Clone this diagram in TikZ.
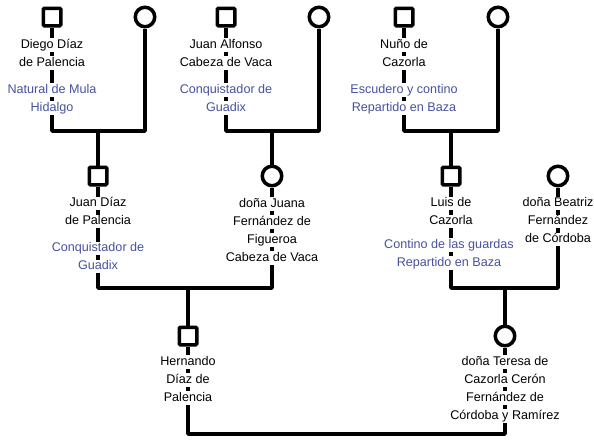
\documentclass[tikz,border=0pt]{standalone}
\usepackage{fontspec}
\setmainfont{Liberation Sans}
\definecolor{noteblue}{RGB}{72,82,160}
\newcommand{\wl}[1]{{\setlength{\fboxsep}{0.8pt}\colorbox{white}{\rule[-3pt]{0pt}{12.3pt}#1}}}
\begin{document}
\begin{tikzpicture}[x=1pt,y=-1pt,
  line/.style={line width=3.5pt, line join=round},
  male/.style={draw, line width=3.5pt, fill=white, minimum size=17.5pt, inner sep=0pt, rounded corners=1pt},
  female/.style={circle, draw, line width=3.5pt, fill=white, minimum size=19.5pt, inner sep=0pt},
  lbl/.style={font=\fontsize{12.6}{18}\selectfont, align=center, inner sep=0pt},
  note/.style={lbl, text=noteblue}]
\useasboundingbox (0,0) rectangle (594,439);
% persons
\node[male]   (A) at (52,17)  {};
\node[female] (B) at (145,17) {};
\node[male]   (C) at (226,17) {};
\node[female] (D) at (319,17) {};
\node[male]   (E) at (404,17) {};
\node[female] (F) at (498,17) {};
\node[male]   (G) at (98,176) {};
\node[female] (H) at (272,176) {};
\node[male]   (I) at (451,176) {};
\node[female] (J) at (558,176) {};
\node[male]   (K) at (188,336) {};
\node[female] (L) at (505,336) {};
% marriage points
\coordinate (m1) at (98,131);
\coordinate (m2) at (272,131);
\coordinate (m3) at (451,131);
\coordinate (m4) at (188,288);
\coordinate (m5) at (505,288);
\coordinate (m6) at (347,434);
% connectors
\draw[line] (A.south) |- (m1) -| (B.south);
\draw[line] (m1) -- (G.north);
\draw[line] (C.south) |- (m2) -| (D.south);
\draw[line] (m2) -- (H.north);
\draw[line] (E.south) |- (m3) -| (F.south);
\draw[line] (m3) -- (I.north);
\draw[line] (G.south) |- (m4) -| (H.south);
\draw[line] (m4) -- (K.north);
\draw[line] (I.south) |- (m5) -| (J.south);
\draw[line] (m5) -- (L.north);
\draw[line] (K.south) |- (m6) -| (L.south);
% texts
\node[lbl]  (tA) at (52,54)   {\wl{Diego Díaz}\\\wl{de Palencia}};
\node[note] (nA) at (52,99)   {\wl{Natural de Mula}\\\wl{Hidalgo}};
\node[lbl]  (tC) at (226,54)  {\wl{Juan Alfonso}\\\wl{Cabeza de Vaca}};
\node[note] (nC) at (226,99)  {\wl{Conquistador de}\\\wl{Guadix}};
\node[lbl]  (tE) at (404,54)  {\wl{Nuño de}\\\wl{Cazorla}};
\node[note] (nE) at (404,99)  {\wl{Escudero y contino}\\\wl{Repartido en Baza}};
\node[lbl]  (tG) at (98,212.5) {\wl{Juan Díaz}\\\wl{de Palencia}};
\node[note] (nG) at (98,257.5) {\wl{Conquistador de}\\\wl{Guadix}};
\node[lbl]  (tH) at (272,231) {\wl{doña Juana}\\\wl{Fernández de}\\\wl{Figueroa}\\\wl{Cabeza de Vaca}};
\node[lbl]  (tI) at (451,212.5) {\wl{Luis de}\\\wl{Cazorla}};
\node[note] (nI) at (449,254) {\wl{Contino de las guardas}\\\wl{Repartido en Baza}};
\node[lbl]  (tJ) at (558,221.5) {\wl{doña Beatriz}\\\wl{Fernández}\\\wl{de Córdoba}};
\node[lbl]  (tK) at (188,380) {\wl{Hernando}\\\wl{Díaz de}\\\wl{Palencia}};
\node[lbl]  (tL) at (505,389) {\wl{doña Teresa de}\\\wl{Cazorla Cerón}\\\wl{Fernández de}\\\wl{Córdoba y Ramírez}};
\end{tikzpicture}
\end{document}
